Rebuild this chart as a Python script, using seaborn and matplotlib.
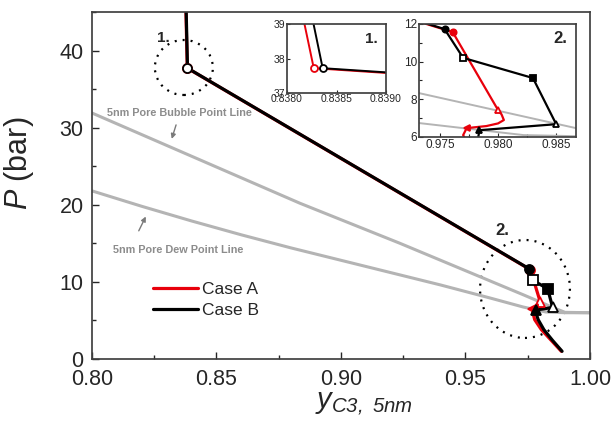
"""Pressure vs C3 vapour fraction in a 5nm pore, two cases with zoomed insets."""

import matplotlib.pyplot as plt
import numpy as np
import pandas as pd
import seaborn as sns
from matplotlib.patches import Ellipse
from matplotlib.ticker import MultipleLocator

# gray phase-envelope lines
bubble_x = [0.800, 0.8835, 0.9237, 0.9732, 0.9867, 0.9900, 1.000]
bubble_y = [31.9, 20.2, 15.0, 8.33, 6.47, 6.05, 6.0]
dew_x = [0.800, 0.820, 0.840, 0.860, 0.880, 0.900, 0.920, 0.940, 0.960,
         0.9732, 0.9822, 0.9900, 1.000]
dew_y = [21.8, 19.8, 17.9, 16.1, 14.4, 12.8, 11.2, 9.6, 7.9,
         6.74, 6.10, 6.0, 6.0]

# Case A (red) path
a_x = [0.8377, 0.83827, 0.9761, 0.9800, 0.9803, 0.9805, 0.9800, 0.9790, 0.9773,
       0.9770, 0.9778, 0.9805, 0.9845, 0.9885]
a_y = [45.5, 37.72, 11.57, 7.43, 7.20, 6.90, 6.72, 6.58, 6.47,
       6.10, 5.10, 3.80, 2.40, 1.00]
# Case B (black) path
b_x = [0.8378, 0.83836, 0.9754, 0.9770, 0.9830, 0.9850, 0.9784,
       0.9783, 0.9792, 0.9815, 0.9850, 0.9888]
b_y = [45.5, 37.72, 11.73, 10.20, 9.13, 6.68, 6.36,
       6.00, 5.10, 3.80, 2.40, 1.00]

# marker points (open / filled)
a_mx = [0.83827, 0.9761, 0.9800, 0.9773]
a_my = [37.72, 11.57, 7.43, 6.47]
a_mk = ["o", "o", "^", "<"]
a_fill = [False, True, False, True]
b_mx = [0.83836, 0.9754, 0.9770, 0.9830, 0.9850, 0.9784]
b_my = [37.72, 11.73, 10.20, 9.13, 6.68, 6.36]
b_mk = ["o", "o", "s", "s", "^", "^"]
b_fill = [False, True, False, True, False, True]

RED = "#e8000b"
GRAY = "#b4b4b4"

sns.set_theme(style="ticks")
plt.rcParams["font.family"] = ["Liberation Sans", "DejaVu Sans"]
# all math text in this figure is italic (axis symbols only)
plt.rcParams["mathtext.fontset"] = "custom"
plt.rcParams["mathtext.rm"] = "Liberation Sans:italic"
plt.rcParams["mathtext.it"] = "Liberation Sans:italic"
plt.rcParams["axes.edgecolor"] = "#404040"
plt.rcParams["xtick.direction"] = "in"
plt.rcParams["ytick.direction"] = "in"


def draw(ax, lw, gray_lw, ms, legend=False):
    sns.lineplot(x=bubble_x, y=bubble_y, sort=False, estimator=None, color=GRAY,
                 lw=gray_lw, ax=ax)
    sns.lineplot(x=dew_x, y=dew_y, sort=False, estimator=None, color=GRAY,
                 lw=gray_lw, ax=ax)
    sns.lineplot(x=a_x, y=a_y, sort=False, estimator=None, color=RED, lw=lw, ax=ax,
                 label="Case A" if legend else None)
    sns.lineplot(x=b_x, y=b_y, sort=False, estimator=None, color="black", lw=lw, ax=ax,
                 label="Case B" if legend else None)
    for xs, ys, mks, fills, col in [(a_mx, a_my, a_mk, a_fill, RED),
                                    (b_mx, b_my, b_mk, b_fill, "black")]:
        for x, y, m, f in zip(xs, ys, mks, fills):
            ax.plot(x, y, marker=m, ms=ms, mfc=col if f else "white", mec=col,
                    mew=1.3, zorder=5)


fig = plt.figure(figsize=(6.12, 4.22), dpi=100)
ax = fig.add_axes([0.1503, 0.1493, 0.8137, 0.8223])
draw(ax, lw=2.3, gray_lw=2.2, ms=6.5, legend=True)
ax.set_xlim(0.80, 1.00)
ax.set_ylim(0, 45)
ax.xaxis.set_major_locator(MultipleLocator(0.05))
ax.xaxis.set_minor_locator(MultipleLocator(0.025))
ax.yaxis.set_major_locator(MultipleLocator(10))
ax.yaxis.set_minor_locator(MultipleLocator(5))
ax.set_xticks([0.80, 0.85, 0.90, 0.95, 1.00], ["0.80", "0.85", "0.90", "0.95", "1.00"])
ax.tick_params(which="major", labelsize=15.5, length=5, width=1)
ax.tick_params(axis="x", which="major", pad=7)
ax.tick_params(axis="y", which="major", pad=6)
ax.tick_params(which="minor", length=3, width=1)
ax.set_xlabel(r"$y_{C3,\ 5nm}$", fontsize=21)
ax.xaxis.set_label_coords(0.545, -0.09)
ax.set_ylabel(r"$P$ (bar)", fontsize=22)
ax.yaxis.set_label_coords(-0.112, 0.565)

ax.add_patch(Ellipse((0.8369, 37.8), 0.0233, 7.13, fill=False, ec="black", lw=1.6,
                     ls=(0, (0.9, 2.7))))
ax.add_patch(Ellipse((0.9739, 9.08), 0.0361, 12.7, fill=False, ec="black", lw=1.6,
                     ls=(0, (0.9, 2.7))))
ax.text(0.8285, 41.6, "1.", fontsize=11, fontweight="bold", ha="center", va="center")
ax.text(0.9647, 16.6, "2.", fontsize=12, fontweight="bold", ha="center", va="center")

ax.text(0.8353, 31.9, "5nm Pore Bubble Point Line", fontsize=7.8, fontweight="bold",
        color="#8c8c8c", ha="center", va="center")
ax.annotate("", xy=(0.8317, 28.2), xytext=(0.8341, 30.7),
            arrowprops=dict(arrowstyle="-|>", color="#7a7a7a", lw=1, mutation_scale=7))
ax.text(0.8345, 14.1, "5nm Pore Dew Point Line", fontsize=7.8, fontweight="bold",
        color="#8c8c8c", ha="center", va="center")
ax.annotate("", xy=(0.8221, 18.8), xytext=(0.8183, 16.3),
            arrowprops=dict(arrowstyle="-|>", color="#7a7a7a", lw=1, mutation_scale=7))

ax.legend(loc="center left", bbox_to_anchor=(0.105, 0.17), frameon=False, fontsize=12.5,
          handlelength=2.6, handletextpad=0.2, labelspacing=0.3, borderpad=0)

# inset 1
ax1 = fig.add_axes([0.469, 0.7796, 0.1618, 0.1635])
draw(ax1, lw=1.4, gray_lw=1.4, ms=5)
ax1.set_xlim(0.8380, 0.8390)
ax1.set_ylim(37, 39)
ax1.set_xticks([0.8380, 0.8385, 0.8390], ["0.8380", "0.8385", "0.8390"])
ax1.set_yticks([37, 38, 39])
ax1.tick_params(labelsize=7.5, length=2.5, width=0.8, pad=1)
ax1.text(0.85, 0.78, "1.", transform=ax1.transAxes, fontsize=11, fontweight="bold",
         ha="center", va="center")

# inset 2
ax2 = fig.add_axes([0.6846, 0.6754, 0.2565, 0.2678])
draw(ax2, lw=1.6, gray_lw=1.4, ms=4.5)
ax2.set_xlim(0.9732, 0.9867)
ax2.set_ylim(6, 12)
ax2.set_xticks([0.975, 0.980, 0.985], ["0.975", "0.980", "0.985"])
ax2.set_yticks([6, 8, 10, 12])
ax2.xaxis.set_minor_locator(MultipleLocator(0.0025))
ax2.yaxis.set_minor_locator(MultipleLocator(1))
ax2.tick_params(which="major", labelsize=8.5, length=3, width=0.8, pad=1.5)
ax2.tick_params(which="minor", length=2, width=0.8)
ax2.text(0.9, 0.87, "2.", transform=ax2.transAxes, fontsize=12, fontweight="bold",
         ha="center", va="center")

for a in (ax1, ax2):
    a.set_xlabel("")
    a.set_ylabel("")

fig.savefig("out.png", dpi=100)
